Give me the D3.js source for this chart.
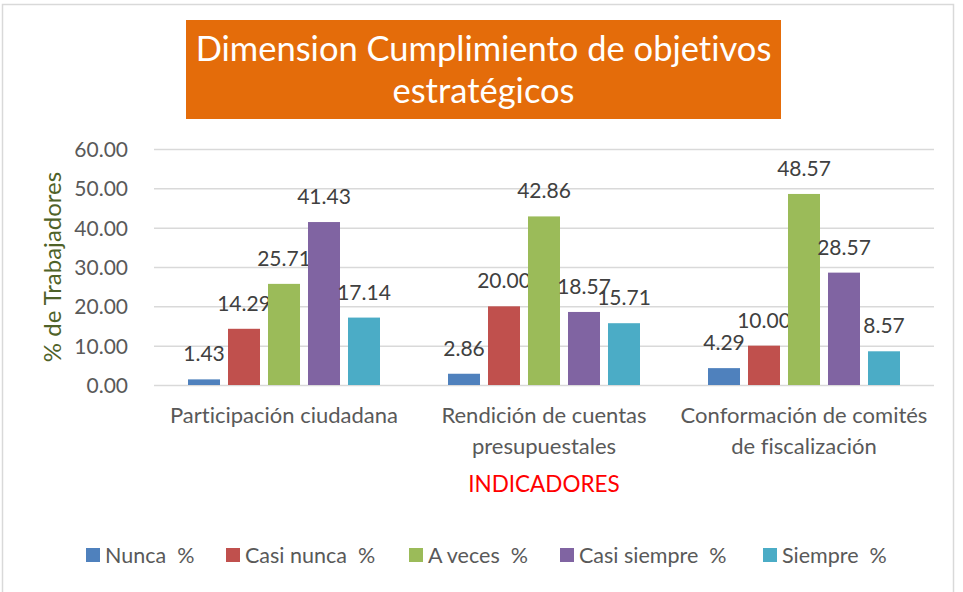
<!DOCTYPE html>
<html>
<head>
<meta charset="utf-8">
<script src="https://cdn.jsdelivr.net/npm/d3@7"></script>
<style>
  html, body { margin: 0; padding: 0; background: #fff; }
  svg text { font-family: Lato, "Open Sans", sans-serif; font-variant-ligatures: none; }
</style>
</head>
<body>
<div id="chart"></div>
<script>
// Data
var titleLines = ["Dimension Cumplimiento de objetivos", "estratégicos"];
var categories = [
  ["Participación ciudadana"],
  ["Rendición de cuentas", "presupuestales"],
  ["Conformación de comités", "de fiscalización"]
];
var seriesNames = ["Nunca  %", "Casi nunca  %", "A veces  %", "Casi siempre  %", "Siempre  %"];
var nunca = [1.43, 2.86, 4.29];
var casiNunca = [14.29, 20.00, 10.00];
var aVeces = [25.71, 42.86, 48.57];
var casiSiempre = [41.43, 18.57, 28.57];
var siempre = [17.14, 15.71, 8.57];
var yTicks = [0, 10, 20, 30, 40, 50, 60];
var COLORS = ["#4F81BD", "#C0504D", "#9BBB59", "#8064A2", "#4BACC6"];

var seriesValues = [nunca, casiNunca, aVeces, casiSiempre, siempre];

var render = function() {
  var width = 963, height = 592;
  var margins = { top: 149, right: 29, bottom: 207, left: 154 };
  var chartWidth = width - margins.left - margins.right;
  var chartHeight = height - margins.top - margins.bottom;

  var svg = d3.select("#chart").append("svg")
    .attr("width", width)
    .attr("height", height);

  // outer border
  svg.append("rect")
    .attr("x", 2.5).attr("y", 4.5)
    .attr("width", 951).attr("height", 600)
    .attr("fill", "none")
    .attr("stroke", "#D9D9D9")
    .attr("stroke-width", 1.5);

  // title box
  svg.append("rect")
    .attr("x", 186).attr("y", 20)
    .attr("width", 595).attr("height", 99)
    .attr("fill", "#E46C0A");

  svg.append("g")
    .selectAll("text")
    .data(titleLines)
    .enter()
    .append("text")
    .attr("x", 483.5)
    .attr("y", (d, i) => 61 + i * 42)
    .attr("text-anchor", "middle")
    .attr("fill", "#fff")
    .attr("font-size", 34.5)
    .text(d => d);

  var chart = svg.append("g")
    .attr("transform", `translate(${margins.left},${margins.top})`);

  var x0 = d3.scaleBand()
    .domain(d3.range(categories.length))
    .range([0, chartWidth]);

  var x1 = d3.scaleBand()
    .domain(d3.range(seriesNames.length))
    .range([0, x0.bandwidth()])
    .paddingInner(0.2)
    .paddingOuter(0.85);

  var yScale = d3.scaleLinear()
    .domain([0, 60])
    .range([chartHeight, 0]);

  // grid
  chart.append("g")
    .attr("class", "y grid")
    .call(d3.axisLeft(yScale).tickValues(yTicks).tickSize(-chartWidth).tickFormat(""))
    .call(g => g.select(".domain").remove())
    .selectAll("line")
    .attr("stroke", "#D9D9D9")
    .attr("stroke-width", 1.5);

  // y axis labels
  var yAxis = chart.append("g")
    .attr("class", "y axis")
    .attr("transform", "translate(-23,0)")
    .call(d3.axisLeft(yScale).tickValues(yTicks).tickSize(0).tickFormat(d => d.toFixed(2)));
  yAxis.select(".domain").remove();
  yAxis.selectAll("text")
    .attr("font-size", 21)
    .attr("fill", "#595959")
    .attr("dy", "0.35em")
    .style("font-family", "Lato, sans-serif");

  // bars
  var groups = chart.append("g")
    .selectAll("g")
    .data(seriesValues)
    .enter()
    .append("g")
    .attr("fill", (d, i) => COLORS[i]);

  groups.each(function(vals, s) {
    var g = d3.select(this);
    g.selectAll("rect")
      .data(vals)
      .enter()
      .append("rect")
      .attr("x", (d, c) => x0(c) + x1(s))
      .attr("y", d => yScale(d))
      .attr("width", x1.bandwidth())
      .attr("height", d => chartHeight - yScale(d));

    g.selectAll("text")
      .data(vals)
      .enter()
      .append("text")
      .attr("x", (d, c) => x0(c) + x1(s) + x1.bandwidth() / 2)
      .attr("y", d => yScale(d) - 18)
      .attr("text-anchor", "middle")
      .attr("font-size", 21)
      .attr("fill", "#404040")
      .text(d => d.toFixed(2));
  });

  // category labels
  var cats = chart.append("g")
    .selectAll("text")
    .data(categories)
    .enter()
    .append("text")
    .attr("x", (d, i) => x0(i) + x0.bandwidth() / 2)
    .attr("y", chartHeight + 38)
    .attr("text-anchor", "middle")
    .attr("font-size", 22)
    .attr("fill", "#595959");
  cats.selectAll("tspan")
    .data(d => d)
    .enter()
    .append("tspan")
    .attr("x", function() { return d3.select(this.parentNode).attr("x"); })
    .attr("dy", (d, i) => i === 0 ? 0 : 31)
    .text(d => d);

  // x axis title
  chart.append("text")
    .attr("x", chartWidth / 2)
    .attr("y", chartHeight + 107)
    .attr("text-anchor", "middle")
    .attr("font-size", 22.5)
    .attr("fill", "#FF0000")
    .text("INDICADORES");

  // y axis title
  svg.append("text")
    .attr("transform", "translate(61,267) rotate(-90)")
    .attr("text-anchor", "middle")
    .attr("font-size", 24)
    .attr("fill", "#4F6228")
    .text("% de Trabajadores");

  // legend
  var legendX = [86, 226, 409, 560, 763];
  var legend = svg.append("g")
    .selectAll("g")
    .data(seriesNames)
    .enter()
    .append("g")
    .attr("transform", (d, i) => `translate(${legendX[i]},548)`);

  legend.append("rect")
    .attr("width", 14)
    .attr("height", 14)
    .attr("fill", (d, i) => COLORS[i]);

  legend.append("text")
    .attr("x", 19)
    .attr("y", 15)
    .attr("font-size", 21.5)
    .attr("fill", "#595959")
    .style("white-space", "pre")
    .text(d => d);
};

window.onload = render;
</script>
</body>
</html>
